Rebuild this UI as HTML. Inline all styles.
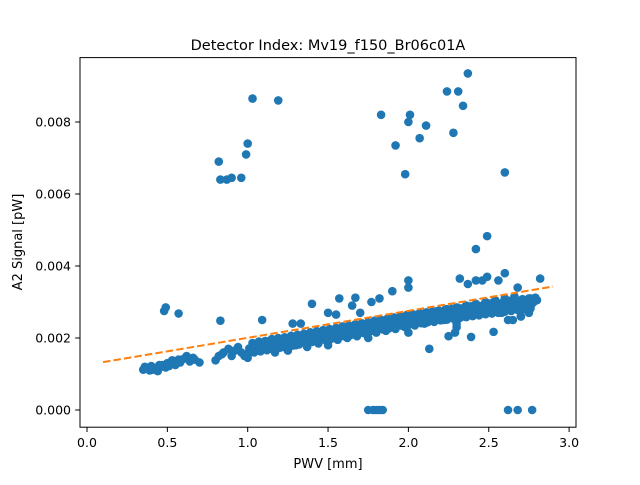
<!DOCTYPE html>
<html><head><meta charset="utf-8"><style>
body{margin:0;background:#fff;font-family:"Liberation Sans","DejaVu Sans",sans-serif;}
svg text{font-family:"DejaVu Sans","Liberation Sans",sans-serif;}
</style></head><body>
<svg id="chart" width="640" height="480" xmlns="http://www.w3.org/2000/svg">
<rect width="640" height="480" fill="#fff"/>
<text x="328" y="50" text-anchor="middle" font-size="14.5">Detector Index: Mv19_f150_Br06c01A</text>
<g id="marks"></g>
<rect x="80" y="57.6" width="496" height="369.6" fill="none" stroke="#000" stroke-width="1"/>
<g id="axes"></g>
<text x="328" y="468" text-anchor="middle" font-size="13">PWV [mm]</text>
<text transform="translate(22,242) rotate(-90)" text-anchor="middle" font-size="13">A2 Signal [pW]</text>
</svg>
<script>
const xs=[0.35,0.37,0.39,0.40,0.42,0.44,0.46,0.47,0.49,0.50,0.52,0.54,0.55,0.57,0.58,0.62,0.64,0.67,0.70,0.80,0.82,0.85,0.88,0.90,0.94,0.96,1.0,1.02,1.05,1.07,1.10,1.12,1.15,1.17,1.19,1.22,1.25,1.27,1.30,1.32,1.35,1.37,1.40,1.42,1.44,1.46,1.48,1.50,1.52,1.54,1.56,1.58,1.60,1.62,1.64,1.66,1.68,1.70,1.72,1.74,1.76,1.78,1.80,1.82,1.84,1.86,1.88,1.90,1.92,1.94,1.96,1.98,2.00,2.02,2.04,2.06,2.08,2.10,2.12,2.14,2.16,2.18,2.20,2.22,2.24,2.26,2.28,2.30,2.32,2.34,2.36,2.38,2.40,2.42,2.44,2.46,2.48,2.50,2.52,2.54,2.56,2.58,2.60,2.62,2.64,2.66,2.68,2.70,2.72,2.74,2.76,2.78,2.80,
1.0,1.25,1.5,1.75,2.0,2.3,2.62,2.58,2.3,
0.82,0.83,0.87,0.90,0.96,0.99,1.0,1.03,1.19,1.83,1.92,1.98,2.0,2.01,2.07,2.11,2.24,2.28,2.31,2.34,2.37,2.6,
0.48,0.49,0.57,0.83,1.09,2.42,2.49,1.4,1.57,1.67,
1.75,1.78,1.80,1.82,1.84,2.62,2.68,2.77,
2.13,2.25,2.29,2.39,2.53,
2.32,2.37,2.42,2.46,2.49,2.56,2.60,2.68,2.82,2.0,1.9,2.0,1.77,1.82,1.5,1.55,1.7,1.65,1.28,1.33,2.7,2.75,2.65,
0.36,0.41,0.45,0.51,0.53,0.56,0.60,0.66,0.84,0.92,0.98];
const ys=[0.00112,0.00118,0.00110,0.00122,0.00115,0.00108,0.00120,0.00125,0.00118,0.00130,0.00128,0.00135,0.00125,0.00140,0.00132,0.00150,0.00135,0.00140,0.00132,0.00138,0.00150,0.00160,0.00170,0.00150,0.00175,0.00160,0.00155,0.00170,0.00180,0.00165,0.00175,0.00185,0.00170,0.00160,0.00190,0.00175,0.00185,0.00195,0.00180,0.00200,0.00190,0.00175,0.00210,0.00195,0.00185,0.00215,0.00200,0.00190,0.00220,0.00205,0.00195,0.00225,0.00210,0.00200,0.00230,0.00215,0.00205,0.00235,0.00220,0.00210,0.00240,0.00225,0.00215,0.00245,0.00230,0.00220,0.00250,0.00235,0.00225,0.00255,0.00240,0.00230,0.00260,0.00245,0.00235,0.00265,0.00250,0.00240,0.00270,0.00255,0.00245,0.00275,0.00260,0.00250,0.00280,0.00265,0.00255,0.00285,0.00270,0.00260,0.00290,0.00275,0.00265,0.00295,0.00280,0.00270,0.00300,0.00285,0.00275,0.00305,0.00290,0.00280,0.00310,0.00295,0.00285,0.00315,0.00300,0.00260,0.00305,0.00295,0.00310,0.00300,0.00305,
0.00145,0.00165,0.00180,0.00200,0.00215,0.00240,0.00250,0.00270,0.00230,
0.0069,0.0064,0.0064,0.00645,0.00645,0.0071,0.0074,0.00865,0.0086,0.0082,0.00735,0.00655,0.0080,0.0082,0.00755,0.0079,0.00885,0.0077,0.00885,0.00845,0.00935,0.0066,
0.00275,0.00285,0.00268,0.00248,0.0025,0.00447,0.00483,0.00295,0.0031,0.00312,
0,0,0,0,0,0,0,0,
0.0017,0.00205,0.00215,0.00203,0.00217,
0.00365,0.0035,0.0036,0.0036,0.0037,0.0036,0.0038,0.0034,0.00365,0.0036,0.0033,0.0034,0.0030,0.0031,0.0027,0.00265,0.0027,0.0029,0.0024,0.0024,0.0026,0.0027,0.0025,
0.00120,0.00112,0.00125,0.00122,0.00138,0.00130,0.00142,0.00145,0.00155,0.00165,0.00150];
const bandX=[1.01,1.05,1.09,1.13,1.17,1.21,1.25,1.29,1.33,1.37,1.41,1.45,1.49,1.53,1.57,1.61,1.65,1.69,1.73,1.77,1.81,1.85,1.89,1.93,1.97,2.01,2.05,2.09,2.13,2.17,2.21,2.25,2.29,2.33,2.37,2.41,2.45,2.49,2.53,2.57,2.61,2.65,2.69,2.73,2.77];
const bandMid=[0.00171,0.00174,0.00177,0.00180,0.00184,0.00187,0.00190,0.00193,0.00196,0.00200,0.00203,0.00206,0.00209,0.00212,0.00216,0.00219,0.00222,0.00225,0.00228,0.00232,0.00235,0.00238,0.00241,0.00244,0.00248,0.00250,0.00253,0.00255,0.00258,0.00260,0.00263,0.00265,0.00268,0.00270,0.00272,0.00275,0.00277,0.00280,0.00282,0.00284,0.00287,0.00289,0.00292,0.00294,0.00296];
const bandHigh=[0.00186,0.00190,0.00192,0.00197,0.00200,0.00202,0.00206,0.00209,0.00212,0.00216,0.00219,0.00222,0.00225,0.00228,0.00232,0.00235,0.00238,0.00241,0.00244,0.00248,0.00251,0.00254,0.00257,0.00260,0.00264,0.00266,0.00269,0.00271,0.00274,0.00276,0.00279,0.00281,0.00284,0.00286,0.00288,0.00291,0.00293,0.00296,0.00298,0.00300,0.00303,0.00305,0.00308,0.00310,0.00312];
const bandLow=[0.00157,0.00160,0.00163,0.00166,0.00170,0.00173,0.00176,0.00179,0.00182,0.00186,0.00189,0.00192,0.00195,0.00198,0.00202,0.00205,0.00208,0.00211,0.00214,0.00218,0.00221,0.00224,0.00227,0.00230,0.00234,0.00236,0.00239,0.00241,0.00244,0.00246,0.00249,0.00251,0.00254,0.00256,0.00258,0.00261,0.00263,0.00266,0.00268,0.00270,0.00273,0.00275,0.00278,0.00280,0.00282];
const fitX=[0.1,2.9];
const fitY=[0.00133,0.00343];
const xTicks=[0.0,0.5,1.0,1.5,2.0,2.5,3.0];
const xTickLabels=["0.0","0.5","1.0","1.5","2.0","2.5","3.0"];
const yTicks=[0,0.002,0.004,0.006,0.008];
const yTickLabels=["0.000","0.002","0.004","0.006","0.008"];
const sx=v=>87+v*160.7;
const sy=v=>410-v*36000;
const NS="http://www.w3.org/2000/svg";
const marks=document.getElementById('marks');
function dot(x,y){
  const c=document.createElementNS(NS,'circle');
  c.setAttribute('cx',sx(x));c.setAttribute('cy',sy(y));c.setAttribute('r',4.3);c.setAttribute('fill','#1f77b4');
  
  
  marks.appendChild(c);
}
for(let i=0;i<xs.length;i++) dot(xs[i],ys[i]);
for(let i=0;i<bandX.length;i++){dot(bandX[i],bandMid[i]);dot(bandX[i]+0.02,bandHigh[i]);dot(bandX[i]-0.01,bandLow[i]);}
const ln=document.createElementNS(NS,'line');
ln.setAttribute('x1',sx(fitX[0]));ln.setAttribute('y1',sy(fitY[0]));ln.setAttribute('x2',sx(fitX[1]));ln.setAttribute('y2',sy(fitY[1]));
ln.setAttribute('stroke','#ff7f0e');ln.setAttribute('stroke-width','2');ln.setAttribute('stroke-dasharray','7.4,3.2');


marks.appendChild(ln);
const axes=document.getElementById('axes');
xTicks.forEach((t,i)=>{
  const x=sx(t);
  const l=document.createElementNS(NS,'line');
  l.setAttribute('x1',x);l.setAttribute('x2',x);l.setAttribute('y1',427.2);l.setAttribute('y2',432);l.setAttribute('stroke','#000');
  
  
  axes.appendChild(l);
  const tx=document.createElementNS(NS,'text');
  tx.setAttribute('x',x);tx.setAttribute('y',447);tx.setAttribute('text-anchor','middle');tx.setAttribute('font-size','12.5');
  tx.textContent=xTickLabels[i];
  
  
  axes.appendChild(tx);
});
yTicks.forEach((t,i)=>{
  const y=sy(t);
  const l=document.createElementNS(NS,'line');
  l.setAttribute('x1',75.2);l.setAttribute('x2',80);l.setAttribute('y1',y);l.setAttribute('y2',y);l.setAttribute('stroke','#000');
  
  
  axes.appendChild(l);
  const tx=document.createElementNS(NS,'text');
  tx.setAttribute('x',71);tx.setAttribute('y',y+4.5);tx.setAttribute('text-anchor','end');tx.setAttribute('font-size','12.5');
  tx.textContent=yTickLabels[i];
  
  
  axes.appendChild(tx);
});
</script>
</body></html>
